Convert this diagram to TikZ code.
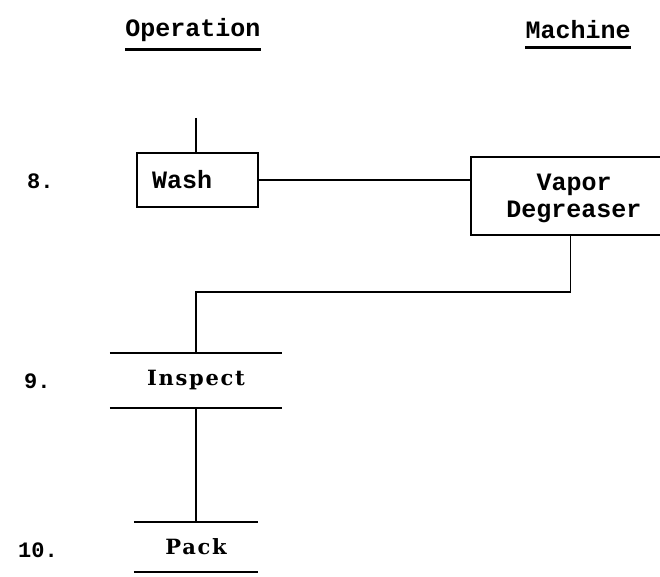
\documentclass[tikz,border=0pt]{standalone}
\usepackage{fontspec}
\setmainfont{Liberation Mono}
\newfontfamily\pf{DejaVu Serif}[LetterSpace=8]
\usetikzlibrary{calc}
\tikzset{
  tw/.style={font=\fontsize{25}{27}\selectfont\bfseries, inner sep=0pt},
  num/.style={font=\fontsize{22}{24}\selectfont\bfseries, inner sep=0pt, anchor=west},
  pl/.style={font=\pf\bfseries\fontsize{21}{23}\selectfont, inner sep=0pt},
  boxed/.style={draw, line width=2pt, inner sep=0pt},
  conn/.style={line width=1.7pt},
  bar/.style={line width=2.2pt},
  uline/.style={line width=3pt}
}
\begin{document}
\begin{tikzpicture}[x=1pt,y=-1pt]
\useasboundingbox (0,0) rectangle (660,577);
\clip (0,0) rectangle (660,577);
% headings
\node[tw] (op) at (193,30) {Operation};
\node[tw] (mc) at (578,30) {Machine};
\draw[uline] ($(op.south west)+(0,8)$) -- ($(op.south east)+(0,8)$);
\draw[uline] ($(mc.south west)+(0,8)$) -- ($(mc.south east)+(0,8)$);
% numbers
\node[num] (n8) at (27,181) {8.};
\node[num] (n9) at (24,381) {9.};
\node[num] (n10) at (18,550) {10.};
% operation 8
\node[boxed, minimum width=121pt, minimum height=54pt] (wash) at (197.5,180) {};
\node[tw, anchor=west] (washt) at (152,180) {Wash};
\coordinate (in8) at (196,118);
% machine
\node[boxed, minimum width=199pt, minimum height=78pt, align=center] (vapor) at (570.5,196) {};
\node[tw, align=center] (vapt) at (574,198) {Vapor\\Degreaser};
% operation 9
\node[pl, minimum width=172pt, minimum height=55pt] (insp) at (196,380.5) {Inspect};
\draw[bar] (insp.north west) -- (insp.north east);
\draw[bar] (insp.south west) -- (insp.south east);
% operation 10
\node[pl, minimum width=124pt, minimum height=49pt] (pack) at (196,547) {Pack};
\draw[bar] (pack.north west) -- (pack.north east);
\draw[bar] (pack.south west) -- (pack.south east);
% connectors
\draw[conn] (in8) -- (wash.north -| in8);
\draw[conn] (wash.east) -- (wash.east -| vapor.west);
\draw[conn] (vapor.south) -- ++(0,56) -| (insp.north);
\draw[conn] (insp.south) -- (pack.north);
\end{tikzpicture}
\end{document}
